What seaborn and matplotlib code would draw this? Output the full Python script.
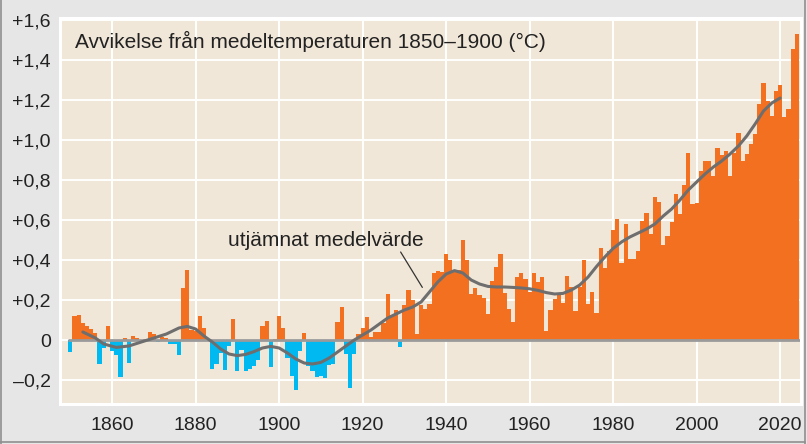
import numpy as np
import pandas as pd
import matplotlib.pyplot as plt
import seaborn as sns
from matplotlib.patches import Rectangle
from matplotlib.lines import Line2D

# annual deviation from the 1850-1900 mean (°C)
years = list(range(1850, 2025))
anomaly = [
    -0.060, 0.120, 0.125, 0.085, 0.068, 0.056, 0.037, -0.119, -0.040, 0.071,   # 1850-59
    -0.054, -0.076, -0.186, 0.012, -0.115, 0.022, 0.012, -0.005, 0.003, 0.039,  # 1860-69
    0.029, -0.012, 0.017, 0.012, -0.020, -0.022, -0.073, 0.258, 0.349, 0.050,   # 1870-79
    0.046, 0.122, 0.060, -0.005, -0.143, -0.120, -0.067, -0.148, -0.030, 0.106, # 1880-89
    -0.155, -0.050, -0.155, -0.143, -0.130, -0.100, 0.070, 0.095, -0.134, 0.005, # 1890-99
    0.120, 0.060, -0.090, -0.180, -0.250, -0.055, 0.037, -0.130, -0.155, -0.185, # 1900-09
    -0.180, -0.190, -0.125, -0.118, 0.092, 0.163, -0.070, -0.240, -0.070, 0.030, # 1910-19
    0.058, 0.113, 0.013, 0.040, 0.040, 0.087, 0.230, 0.120, 0.150, -0.035,      # 1920-29
    0.175, 0.250, 0.200, 0.030, 0.175, 0.155, 0.180, 0.335, 0.343, 0.340,       # 1930-39
    0.430, 0.400, 0.350, 0.350, 0.500, 0.400, 0.230, 0.260, 0.225, 0.210,       # 1940-49
    0.128, 0.295, 0.367, 0.430, 0.237, 0.155, 0.088, 0.317, 0.333, 0.305,       # 1950-59
    0.242, 0.333, 0.290, 0.317, 0.047, 0.150, 0.205, 0.233, 0.187, 0.320,       # 1960-69
    0.267, 0.145, 0.263, 0.400, 0.180, 0.242, 0.133, 0.458, 0.358, 0.447,       # 1970-79
    0.550, 0.603, 0.387, 0.578, 0.403, 0.405, 0.447, 0.597, 0.637, 0.530,       # 1980-89
    0.713, 0.688, 0.475, 0.522, 0.588, 0.730, 0.628, 0.777, 0.933, 0.678,       # 1990-99
    0.683, 0.843, 0.897, 0.897, 0.820, 0.962, 0.925, 0.946, 0.818, 0.935,       # 2000-09
    1.033, 0.893, 0.929, 0.978, 1.028, 1.178, 1.285, 1.197, 1.120, 1.246,       # 2010-19
    1.275, 1.117, 1.153, 1.454, 1.528,                                          # 2020-24
]

# smoothed mean ("utjämnat medelvärde")
smooth_years = [1853, 1856, 1858, 1861, 1864, 1867, 1870, 1873, 1876, 1878,
                1880, 1882, 1884, 1886, 1888, 1890, 1892, 1894, 1896, 1898,
                1900, 1902, 1904, 1906, 1908, 1910, 1912, 1914, 1916, 1918,
                1920, 1922, 1924, 1926, 1928, 1930, 1932, 1934, 1936, 1938,
                1940, 1942, 1944, 1946, 1948, 1950, 1952, 1954, 1956, 1958,
                1960, 1962, 1964, 1966, 1968, 1970, 1972, 1974, 1976, 1978,
                1980, 1982, 1984, 1986, 1988, 1990, 1992, 1994, 1996, 1998,
                2000, 2002, 2004, 2006, 2008, 2010, 2012, 2014, 2016, 2018, 2020]
smooth_values = [0.040, 0.010, -0.020, -0.037, -0.030, -0.010, 0.010, 0.030, 0.060, 0.068,
                 0.055, 0.020, -0.010, -0.045, -0.070, -0.078, -0.072, -0.058, -0.040, -0.032,
                 -0.040, -0.065, -0.095, -0.115, -0.120, -0.112, -0.090, -0.060, -0.030, 0.000,
                 0.025, 0.050, 0.080, 0.110, 0.130, 0.150, 0.165, 0.190, 0.240, 0.290,
                 0.330, 0.347, 0.335, 0.300, 0.280, 0.268, 0.265, 0.265, 0.263, 0.260,
                 0.256, 0.248, 0.237, 0.230, 0.233, 0.250, 0.275, 0.315, 0.367, 0.415,
                 0.458, 0.490, 0.515, 0.535, 0.555, 0.580, 0.620, 0.655, 0.700, 0.750,
                 0.790, 0.830, 0.865, 0.895, 0.930, 0.970, 1.020, 1.080, 1.145, 1.185, 1.210]

y_ticks = [-0.2, 0.0, 0.2, 0.4, 0.6, 0.8, 1.0, 1.2, 1.4, 1.6]
y_labels = ["–0,2", "0", "+0,2", "+0,4", "+0,6", "+0,8", "+1,0", "+1,2", "+1,4", "+1,6"]
x_ticks = [1860, 1880, 1900, 1920, 1940, 1960, 1980, 2000, 2020]

orange = "#F37021"
blue = "#00B9F1"
beige = "#F1E7D8"
page = "#E6E6E6"
curve = "#6E6E6E"

df = pd.DataFrame({"year": years, "anomaly": anomaly})
df["sign"] = np.where(df["anomaly"] >= 0, "pos", "neg")

sns.set_style("white")
plt.rcParams["font.family"] = ["Liberation Sans Narrow", "Liberation Sans", "DejaVu Sans"]

W, H = 807, 444
fig = plt.figure(figsize=(W / 100, H / 100), dpi=100, facecolor=page)

# white frame around the plot panel
fig.patches.append(Rectangle((59 / W, 1 - 406 / H), (803 - 59) / W, (406 - 17) / H,
                             transform=fig.transFigure, facecolor="white",
                             edgecolor="none", zorder=-1))
# thin grey outline of the whole box
for xs, ys in [([0.6 / W, 0.6 / W], [0, 1]), ([804.5 / W, 804.5 / W], [0, 1]),
               ([0, 805 / W], [1 - 441.5 / H, 1 - 441.5 / H])]:
    fig.add_artist(Line2D(xs, ys, transform=fig.transFigure, color="#8F8F8F", lw=1.2))

ax = fig.add_axes([62 / W, 1 - 403 / H, (800 - 62) / W, (403 - 20) / H])
ax.set_facecolor(beige)

sns.barplot(data=df, x="year", y="anomaly", hue="sign",
            palette={"pos": orange, "neg": blue}, native_scale=True,
            width=1.0, linewidth=0, dodge=False, legend=False,
            saturation=1, errorbar=None, ax=ax)

ax.hlines(0, 1849.5, 2024.8, color="#9A9A9A", lw=2, zorder=3)
sns.lineplot(x=smooth_years, y=smooth_values, color=curve, lw=2.2, ax=ax, zorder=4)

ax.set_xlim(1848.0, 2024.75)
ax.set_ylim(-0.315, 1.6)
ax.set_xticks(x_ticks)
ax.set_xticklabels([str(t) for t in x_ticks])
ax.set_yticks(y_ticks)
ax.set_yticklabels(y_labels)
ax.set_axisbelow(True)
ax.grid(True, color="white", lw=1.4)
ax.tick_params(length=0, labelsize=14, colors="#222222")
ax.tick_params(axis="x", pad=10)
ax.tick_params(axis="y", pad=8)
ax.set_xlabel("")
ax.set_ylabel("")
for s in ax.spines.values():
    s.set_visible(False)

ax.text(0.018, 0.945, "Avvikelse från medeltemperaturen 1850–1900 (°C)",
        transform=ax.transAxes, ha="left", va="center", fontsize=15, color="#222222")
ax.text(0.225, 0.423, "utjämnat medelvärde", transform=ax.transAxes,
        ha="left", va="center", fontsize=15, color="#222222")
ax.plot([1929.1, 1934.3], [0.44, 0.263], color="#333333", lw=0.9, zorder=5)

fig.savefig("out.png", dpi=100, facecolor=page)
